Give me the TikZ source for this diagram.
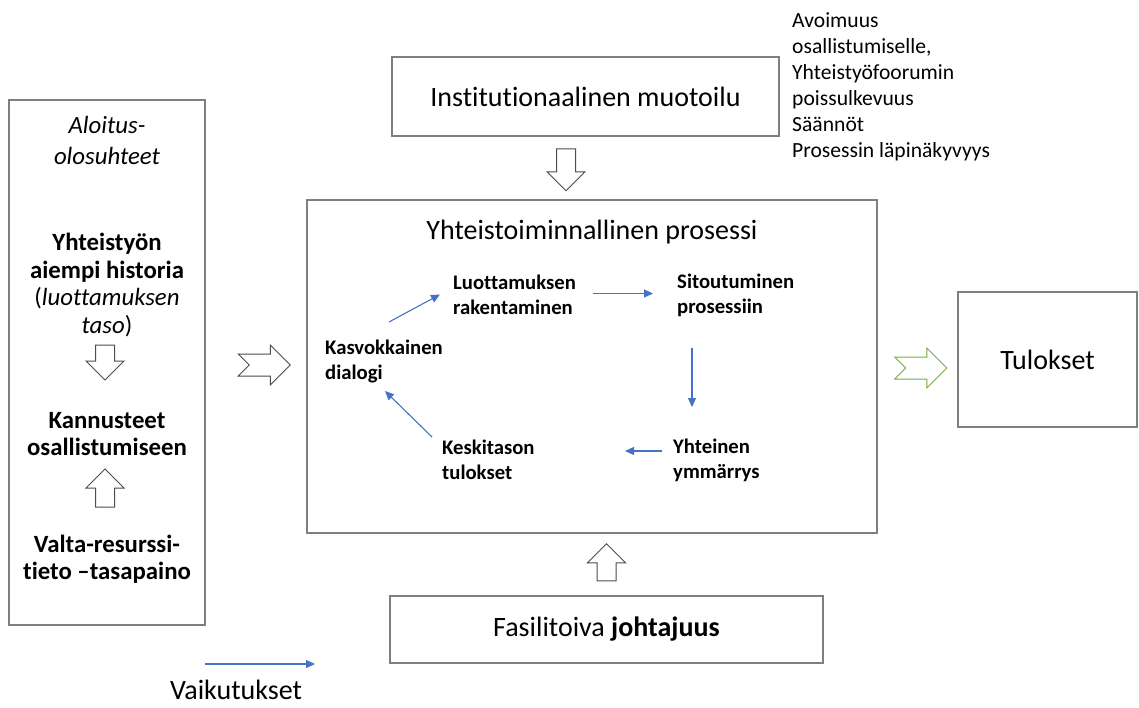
\documentclass[tikz,border=0pt]{standalone}
\usepackage{fontspec}
\setmainfont{Carlito}[Ligatures={TeX,NoCommon}]
\usetikzlibrary{arrows.meta,calc,positioning}

\definecolor{framegray}{RGB}{127,127,127}
\definecolor{cycleblue}{RGB}{68,114,196}
\definecolor{outgreen}{RGB}{112,173,71}

\tikzset{
  pics/blockdown/.style={code={%
    \draw[blockarrow] (-9.5,-#1) -- (9.5,-#1) -- (9.5,#1-19) -- (19,#1-19)
      -- (0,#1) -- (-19,#1-19) -- (-9.5,#1-19) -- cycle;}},
  pics/notcharrow/.style={code={%
    \draw[blockarrow,draw=#1] (-26,-11) -- (6,-11) -- (6,-20) -- (26,0)
      -- (6,20) -- (6,11) -- (-26,11) -- (-15,0) -- cycle;}},
}

\begin{document}
\begin{tikzpicture}[x=1pt,y=-1pt,>={Triangle[length=9pt,width=8pt]},
    frame/.style={draw=framegray,line width=1.5pt,inner sep=0pt},
    blockarrow/.style={draw=black!70,line width=1pt,fill=white},
    flow/.style={->,draw=cycleblue,line width=1.1pt},
    bigtext/.style={font=\fontsize{28}{34}\selectfont},
    sidetext/.style={font=\bfseries\fontsize{24.8}{27.5}\selectfont,align=center,inner sep=0pt},
    cycletext/.style={font=\bfseries\fontsize{20.7}{25}\selectfont,align=left,inner sep=0pt,anchor=west}]
  \useasboundingbox (0,0) rectangle (1139,707);

  % boxes
  \node[frame,minimum width=196pt,minimum height=525pt] (start) at (107,362.5) {};
  \node[frame,bigtext,minimum width=387pt,minimum height=79pt] (inst) at (585.5,96.5) {Institutionaalinen muotoilu};
  \node[frame,minimum width=570pt,minimum height=333pt] (proc) at (592,366.5) {};
  \node[frame,bigtext,minimum width=179pt,minimum height=135pt] (tul) at (1047.5,359.5) {Tulokset};
  \node[frame,bigtext,minimum width=433pt,minimum height=67pt] (fas) at (606.5,629.5) {Fasilitoiva \textbf{johtajuus}};

  % starting conditions
  \node[sidetext,font=\itshape\fontsize{24.8}{31}\selectfont] (cond) at (107,140) {Aloitus-\\olosuhteet};
  \node[sidetext] (hist) at (107,285) {Yhteistyön\\aiempi historia\\{\mdseries(\textit{luottamuksen}}\\{\mdseries\textit{taso})}};
  \node[sidetext] (kann) at (107,434) {Kannusteet\\osallistumiseen};
  \node[sidetext] (valta) at (107,559) {Valta-resurssi-\\tieto --tasapaino};
  \pic at (105,362.5) {blockdown=17.5};
  \pic[rotate=180] at (105,488) {blockdown=19};

  % block arrows into the process
  \pic at ($(inst.south)+(-19.5,33)$) {blockdown=21};
  \pic[rotate=180] at ($(fas.north)+(0,-33)$) {blockdown=18.5};
  \pic at ($(start.east)+(58.5,2.5)$) {notcharrow=black!70};
  \pic at ($(proc.east)+(43,1.5)$) {notcharrow=outgreen};

  % the cycle
  \node[bigtext] (proctitle) at (592,232) {Yhteistoiminnallinen prosessi};
  \node[cycletext] (luot) at (453,294.5) {Luottamuksen\\rakentaminen};
  \node[cycletext] (sito) at (677,295) {Sitoutuminen\\prosessiin};
  \node[cycletext] (yht) at (673,460) {Yhteinen\\ymmärrys};
  \node[cycletext] (kesk) at (442,459.5) {Keskitason\\tulokset};
  \node[cycletext] (kasv) at (325,361) {Kasvokkainen\\dialogi};
  \draw[flow] ($(kasv.west)+(64,-39)$) -- ($(luot.west)+(-13,0)$);
  \draw[flow] ($(luot.east)+(17,-1)$) -- ($(sito.west)+(-24,-1.5)$);
  \draw[flow] ($(sito.west)+(15,53)$) -- ($(yht.west)+(19,-53)$);
  \draw[flow] ($(yht.west)+(-11,-9)$) -- ($(kesk.west)+(183,-8.5)$);
  \draw[flow] ($(kesk.west)+(-10,-22.5)$) -- ($(kasv.west)+(60,30)$);

  % design notes
  \node[anchor=west,align=left,inner sep=0pt,font=\fontsize{21.6}{26}\selectfont] (notes) at (792,87)
    {Avoimuus\\osallistumiselle,\\Yhteistyöfoorumin\\poissulkevuus\\Säännöt\\Prosessin läpinäkyvyys};

  % legend
  \node[bigtext,inner sep=0pt] (vaik) at (236,690) {Vaikutukset};
  \coordinate (legfrom) at (205,664);
  \coordinate (legto) at (315,664);
  \draw[flow] (legfrom) -- (legto);
\end{tikzpicture}
\end{document}
